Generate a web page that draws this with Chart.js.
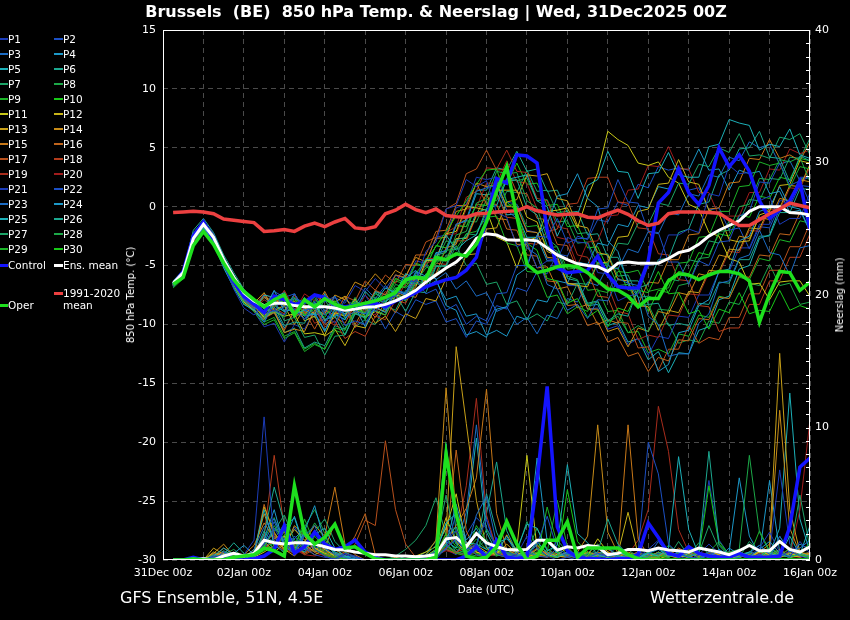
<!DOCTYPE html>
<html><head><meta charset="utf-8">
<script src="https://cdn.jsdelivr.net/npm/chart.js@4.4.1/dist/chart.umd.min.js"></script>
<style>
html,body{margin:0;padding:0;background:#000;}
#wrap{position:relative;width:850px;height:620px;background:#000;overflow:hidden;font-family:"DejaVu Sans",sans-serif;color:#fff;}
#c{position:absolute;left:0;top:0;}
.t{position:absolute;white-space:pre;color:#fff;}
.lg{position:absolute;font-size:10.5px;line-height:12px;white-space:pre;color:#fff;}
.ll{position:absolute;height:2px;}
</style></head><body>
<div id="wrap">
<canvas id="c" width="850" height="620"></canvas>
<div class="t" id="title" style="left:436px;top:3px;transform:translateX(-50%);font-family:'DejaVu Sans',sans-serif;font-weight:bold;font-size:16px;line-height:18px;">Brussels  (BE)  850 hPa Temp. &amp; Neerslag | Wed, 31Dec2025 00Z</div>
<div class="t" style="left:131px;top:295px;transform:translate(-50%,-50%) rotate(-90deg);font-size:10px;line-height:12px;">850 hPa Temp. (°C)</div>
<div class="t" style="left:840px;top:295px;transform:translate(-50%,-50%) rotate(-90deg);font-size:10px;line-height:12px;">Neerslag (mm)</div>
<div class="t" style="left:486px;top:589px;transform:translate(-50%,-50%);font-size:10.3px;line-height:12px;">Date (UTC)</div>
<div class="t" style="left:120px;top:589px;font-size:16px;line-height:18px;">GFS Ensemble, 51N, 4.5E</div>
<div class="t" style="left:650px;top:589px;font-size:16px;line-height:18px;">Wetterzentrale.de</div>
<div id="legend"></div>
</div>
<script>
// ---------- data ----------
const hours = [6,12,18,24,30,36,42,48,54,60,66,72,78,84,90,96,102,108,114,120,126,132,138,144,150,156,162,168,174,180,186,192,198,204,210,216,222,228,234,240,246,252,258,264,270,276,282,288,294,300,306,312,318,324,330,336,342,348,354,360,366,372,378,384];
const xTickLabels = ['31Dec 00z','02Jan 00z','04Jan 00z','06Jan 00z','08Jan 00z','10Jan 00z','12Jan 00z','14Jan 00z','16Jan 00z'];
const memberNames = ['P1','P2','P3','P4','P5','P6','P7','P8','P9','P10','P11','P12','P13','P14','P15','P16','P17','P18','P19','P20','P21','P22','P23','P24','P25','P26','P27','P28','P29','P30'];

const climTemp = [-0.5,-0.45,-0.4,-0.45,-0.6,-1.05,-1.15,-1.25, -1.35,-2.1,-2.05,-1.95,-2.1,-1.65,-1.4,-1.7, -1.3,-1.0,-1.8,-1.9,-1.7,-0.6,-0.3,0.2, -0.25,-0.5,-0.2,-0.75,-0.85,-0.9,-0.6,-0.55, -0.45,-0.4,-0.35,0.0,-0.35,-0.55,-0.7,-0.65, -0.6,-0.9,-0.95,-0.6,-0.3,-0.65,-1.2,-1.6, -1.4,-0.6,-0.45,-0.45,-0.45,-0.5,-0.55,-1.1, -1.6,-1.6,-1.1,-0.6,-0.2,0.3,0.1,-0.1];
const meanTemp = [-6.5,-5.6,-2.7,-1.5,-2.6,-4.5,-6.0,-7.3, -8.0,-8.4,-8.2,-8.2,-8.4,-8.5,-8.5,-8.5, -8.6,-8.8,-8.7,-8.55,-8.5,-8.3,-8.0,-7.6, -7.1,-6.4,-5.8,-5.2,-4.7,-3.9,-2.7,-2.3, -2.4,-2.8,-2.85,-2.8,-2.9,-3.5,-4.1,-4.5, -4.85,-5.0,-5.1,-5.5,-4.8,-4.7,-4.8,-4.8, -4.8,-4.4,-3.9,-3.7,-3.2,-2.5,-2.0,-1.6, -1.2,-0.4,0.0,0.0,0.0,-0.5,-0.55,-0.7];
const controlTemp = [-6.6,-5.5,-2.5,-1.3,-2.8,-4.8,-6.4,-7.6, -8.3,-9.0,-7.6,-7.9,-8.3,-8.1,-7.5,-7.7, -8.4,-8.5,-8.4,-8.3,-8.2,-8.5,-8.0,-7.7, -7.3,-6.8,-6.5,-6.2,-6.0,-5.4,-4.3,-1.1, 2.4,2.0,4.4,4.3,3.7,-2.0,-5.2,-5.6, -5.5,-5.4,-4.2,-5.8,-6.8,-6.9,-6.9,-4.6, 0.3,1.2,3.2,1.2,0.2,1.8,5.0,3.4, 4.4,3.0,0.5,-1.0,-0.3,0.5,2.1,-2.0];
const operTemp = [-6.6,-6.0,-3.3,-2.1,-3.2,-4.8,-6.2,-7.2, -7.9,-8.5,-7.9,-7.5,-9.2,-7.9,-8.5,-7.8, -8.3,-8.6,-8.4,-8.2,-8.0,-7.7,-7.3,-6.2, -6.0,-6.1,-4.3,-4.5,-4.0,-4.2,-3.2,-1.3, 1.3,3.4,-0.8,-4.9,-5.6,-5.4,-5.1,-5.0, -5.1,-5.6,-6.3,-7.0,-7.1,-7.6,-8.5,-7.8, -7.8,-6.3,-5.7,-5.8,-6.2,-5.8,-5.5,-5.5, -5.7,-6.3,-9.8,-7.4,-5.5,-5.6,-7.1,-6.4];
const meanPrec = [0,0,0,0.1,0,0.3,0.5,0.3, 0.5,1.5,1.3,1.2,1.3,1.3,1.2,1.0, 0.8,0.75,0.6,0.5,0.4,0.4,0.3,0.3, 0.25,0.3,0.4,1.6,1.7,1.0,2.0,1.3, 1.0,0.8,0.75,0.8,1.5,1.5,0.75,1.0, 0.9,1.1,1.0,0.4,0.5,0.8,0.8,0.7, 0.9,0.75,0.7,0.6,0.9,0.75,0.6,0.4, 0.7,1.1,0.7,0.7,1.4,0.8,0.6,1.0];
const controlPrec = [0,0,0.2,0,0,0,0,0, 0.1,0.3,0.8,2.6,0.5,1.0,2.1,1.2, 0.8,1.0,1.5,0.6,0.2,0,0,0, 0,0,0,0,0,0.3,1.0,0.2, 1.5,0.2,0.1,0.2,6.0,13.1,2.5,0.7, 0.2,0.1,0.1,0,0.1,0.1,0.4,2.8, 1.7,0.5,0.3,1.0,0.5,0.3,0.2,0.2, 0.5,0.2,0.2,0.2,0.3,2.5,7.0,7.7];
const operPrec = [0,0,0.1,0,0,0,0.2,0.3, 0.4,0.9,0.7,0.3,5.6,2.0,1.2,1.7, 2.7,0.9,1.0,0.5,0.1,0,0,0, 0,0,0.2,8.0,3.5,0.3,0.1,0.2, 1.0,2.9,1.2,0,0.3,1.5,1.5,2.9, 0.2,0.9,0.9,0.9,0.9,0.4,0.1,0, 0,0,0,0,0,0,0,0, 0,0,0,0,0,0,0,0];

const T_P1 = [-6.7,-5.8,-2.4,-1.3,-2.6,-4.9,-7.0,-8.6, -9.2,-8.3,-8.9,-7.4,-8.7,-9.6,-8.0,-9.1, -9.9,-8.4,-8.6,-7.5,-8.9,-7.8,-7.6,-6.2, -6.4,-3.8,-3.0,-0.2,0.1,2.3,1.7,2.2, -0.5,-0.9,-3.4,-3.0,-5.2,-4.6,-4.5,-2.6, -3.0,-3.1,-5.6,-5.7,-8.0,-7.6,-7.4,-5.0, -4.8,-2.4,-2.4,-1.9,-2.2,1.1,0.9,3.5, 2.8,2.9,0.5,0.9,-1.5,-1.0,-1.0,1.2];
const T_P2 = [-6.4,-5.5,-2.2,-1.2,-2.3,-4.3,-5.8,-7.2, -8.1,-9.1,-8.8,-9.2,-7.4,-8.8,-8.6,-9.9, -8.3,-10.1,-9.7,-10.0,-8.3,-8.6,-7.2,-7.5, -6.1,-7.4,-7.0,-8.8,-8.3,-10.0,-9.3,-9.7, -7.4,-7.3,-5.0,-5.0,-2.5,-2.6,-1.0,-3.1, -2.7,-2.7,-0.2,-0.1,2.3,0.4,0.3,-2.1, -2.2,-4.7,-4.7,-6.6,-4.6,-5.0,-3.0,-2.9, -0.8,-0.4,2.1,2.0,3.7,1.8,2.2,0.3];
const T_P3 = [-6.6,-5.7,-2.6,-1.5,-2.7,-4.4,-6.2,-7.9, -8.6,-9.8,-8.0,-8.5,-7.8,-8.1,-7.5,-8.9, -7.6,-9.4,-8.9,-9.1,-8.0,-8.8,-7.1,-7.3, -5.6,-6.2,-4.0,-3.7,-1.5,-1.2,1.3,1.6, 1.8,-0.3,-1.0,-3.5,-4.1,-6.6,-7.0,-8.8, -8.3,-9.5,-7.9,-8.0,-6.1,-6.5,-6.7,-9.3, -10.0,-12.7,-12.5,-12.5,-9.9,-9.1,-6.5,-6.3, -4.4,-4.1,-2.0,-3.9,-4.1,-5.8,-3.5,-3.3];
const T_P4 = [-6.5,-5.6,-2.9,-1.8,-2.9,-4.7,-6.3,-7.5, -7.9,-8.7,-7.1,-8.9,-8.7,-9.3,-9.1,-10.6, -8.7,-9.1,-8.5,-10.2,-8.5,-9.0,-7.1,-7.4, -5.5,-5.9,-6.1,-8.4,-8.8,-10.9,-10.6,-11.1, -8.7,-8.5,-5.8,-5.2,-2.4,-1.5,0.9,1.1, 2.8,0.7,0.0,-2.9,-3.8,-6.5,-7.7,-11.5, -14.0,-13.4,-10.7,-10.5,-8.4,-7.9,-5.5,-5.3, -2.9,-2.5,-0.4,-0.1,1.7,0.0,-0.2,-2.0];
const T_P5 = [-6.8,-5.9,-2.8,-1.7,-3.0,-5.2,-6.9,-8.3, -8.8,-7.5,-7.7,-7.3,-9.1,-8.8,-9.2,-7.4, -8.9,-8.5,-8.8,-7.2,-8.1,-6.9,-7.3,-5.7, -6.1,-4.5,-4.5,-2.4,-3.7,-2.9,-2.4,-0.2, 0.1,2.3,2.5,2.7,0.5,0.0,-2.5,-0.7, -0.7,1.8,2.3,4.7,3.0,2.9,0.7,2.8, 2.9,4.6,2.7,2.5,2.5,5.1,5.3,7.4, 7.1,6.9,4.8,5.3,5.1,6.6,4.4,4.1];
const T_P6 = [-6.3,-5.4,-2.0,-1.0,-2.2,-4.1,-5.6,-7.0, -7.9,-9.0,-8.5,-10.1,-9.8,-9.9,-8.1,-9.6, -9.3,-10.9,-9.1,-9.4,-7.9,-8.1,-7.4,-8.9, -7.2,-7.3,-5.1,-5.0,-2.8,-2.6,-0.5,-0.2, 2.0,2.1,2.3,-0.1,-0.7,-3.3,-3.8,-6.1, -6.3,-8.2,-8.0,-9.7,-9.1,-9.3,-6.9,-6.6, -4.5,-4.4,-2.2,-1.9,0.2,0.4,2.7,3.1, 4.9,5.0,6.4,4.2,4.1,2.1,4.3,3.9];
const T_P7 = [-6.6,-5.6,-2.5,-1.4,-2.7,-4.8,-6.6,-8.0, -8.7,-9.5,-8.1,-9.7,-9.4,-11.1,-10.9,-12.6, -11.0,-10.9,-9.0,-9.5,-8.1,-8.7,-7.3,-7.9, -6.5,-6.8,-5.0,-5.1,-3.3,-5.0,-4.8,-6.6, -6.4,-8.3,-8.0,-9.6,-9.1,-9.7,-8.1,-8.3, -6.5,-6.6,-4.7,-4.9,-3.1,-3.2,-1.4,-1.5, 0.3,0.1,2.0,1.9,3.6,3.4,5.0,4.6, 6.2,4.3,4.4,4.1,5.9,5.7,6.2,4.4];
const T_P8 = [-6.5,-5.6,-2.7,-1.6,-2.8,-4.6,-6.1,-7.6, -8.3,-9.3,-8.9,-9.4,-7.8,-8.3,-7.7,-9.2, -8.6,-9.1,-7.7,-9.3,-8.8,-9.2,-7.6,-8.0, -6.3,-6.5,-4.6,-4.6,-2.4,-2.1,0.3,0.7, 3.0,2.8,2.9,0.5,-0.1,-2.7,-3.4,-5.9, -6.2,-8.3,-8.1,-9.8,-9.3,-10.7,-10.1,-10.6, -8.7,-8.8,-6.7,-6.5,-4.4,-4.3,-2.1,-2.0, 0.0,0.2,2.4,2.3,4.0,3.8,4.2,2.1];
const T_P9 = [-6.9,-6.1,-3.2,-2.1,-3.3,-5.1,-6.8,-8.2, -8.9,-10.0,-9.6,-11.2,-10.7,-12.3,-11.7,-12.1, -10.3,-10.5,-8.7,-9.0,-7.4,-7.8,-6.1,-6.5, -6.4,-5.2,-4.9,-3.7,-3.6,-2.3,-2.1,-0.9, -0.8,-3.1,-3.3,-5.5,-5.6,-7.7,-7.5,-9.1, -8.5,-8.9,-7.1,-7.3,-5.5,-5.6,-5.4,-7.2, -7.0,-6.9,-4.8,-4.7,-2.6,-2.5,-0.4,-0.4, 1.7,1.8,3.8,3.5,3.7,1.6,3.4,3.2];
const T_P10 = [-6.4,-5.5,-2.4,-1.3,-2.5,-4.4,-5.9,-7.4, -8.2,-9.1,-7.6,-8.2,-7.7,-9.2,-8.7,-9.4, -8.0,-8.6,-8.1,-9.6,-8.2,-8.7,-6.9,-6.8, -5.7,-4.5,-3.4,-2.1,-0.8,0.5,1.9,3.1, 3.2,0.4,-0.4,-3.1,-3.7,-6.1,-6.3,-8.2, -7.8,-9.4,-8.8,-10.2,-8.6,-8.9,-7.1,-7.3, -5.5,-7.4,-7.3,-9.1,-8.8,-10.4,-8.7,-9.0, -7.3,-9.1,-8.8,-8.9,-7.1,-8.8,-8.4,-8.7];
const T_P11 = [-6.6,-5.7,-2.6,-1.5,-2.8,-4.5,-6.2,-7.7, -8.4,-9.4,-8.9,-9.3,-9.1,-10.8,-10.7,-10.9, -9.0,-9.3,-7.8,-9.4,-8.9,-9.2,-7.5,-7.7, -6.8,-4.6,-4.5,-2.3,-2.1,0.0,-0.1,-0.3, -2.6,-3.0,-5.2,-2.9,-2.6,-0.4,-0.3,-0.1, -1.8,0.8,2.9,6.4,5.7,5.2,3.7,3.5, 3.8,2.5,2.0,0.2,-0.2,-2.2,-2.5,-4.4, -4.7,-6.6,-6.5,-7.9,-6.4,-6.3,-6.3,-7.6];
const T_P12 = [-6.5,-5.6,-2.8,-1.7,-2.9,-4.9,-6.7,-8.1, -8.8,-9.6,-7.9,-8.4,-8.0,-9.7,-9.3,-11.0, -10.4,-11.8,-10.1,-10.3,-8.6,-8.9,-7.2,-7.6, -6.0,-6.3,-4.5,-4.6,-2.7,-2.7,-0.7,-0.6, 1.4,1.4,1.4,-0.9,-1.3,-3.8,-4.2,-6.5, -6.7,-6.8,-4.8,-4.7,-2.6,-2.5,-0.4,-0.2, 1.9,2.0,4.0,2.1,1.9,-0.3,-0.6,-2.8, -3.0,-2.9,-0.7,-0.4,1.8,1.9,3.9,3.7];
const T_P13 = [-6.7,-5.8,-2.7,-1.6,-2.7,-4.7,-6.4,-7.7, -8.2,-7.3,-8.8,-8.4,-10.0,-8.6,-9.1,-7.6, -8.1,-7.6,-9.1,-8.5,-9.9,-9.3,-10.6,-9.1, -9.5,-7.8,-8.0,-6.1,-6.1,-4.1,-4.0,-1.9, -1.8,0.4,0.6,2.7,2.6,2.8,0.7,0.5, -1.6,-1.8,-3.9,-4.1,-6.2,-6.3,-8.4,-8.5, -10.5,-8.8,-9.0,-7.2,-7.3,-5.4,-5.5,-3.6, -3.7,-1.8,-1.9,0.0,-0.1,1.8,1.7,3.6];
const T_P14 = [-6.4,-5.5,-2.3,-1.2,-2.4,-4.3,-5.8,-7.1, -8.0,-9.2,-8.9,-10.7,-10.4,-10.6,-8.8,-9.1, -7.5,-7.9,-6.4,-6.8,-5.7,-6.6,-5.4,-5.9, -4.3,-4.7,-2.7,-2.6,-0.4,-0.2,2.0,1.7, 1.9,0.0,0.0,-2.1,-2.2,-4.3,-4.4,-6.5, -6.6,-8.7,-8.7,-10.6,-10.3,-11.9,-10.3,-10.6, -8.9,-9.1,-7.3,-7.5,-5.7,-5.9,-4.1,-4.3, -2.5,-2.7,-0.9,-1.1,0.7,0.5,2.3,2.1];
const T_P15 = [-6.6,-5.7,-2.5,-1.4,-2.6,-4.6,-6.5,-8.0, -8.6,-7.7,-8.3,-7.8,-9.4,-8.0,-8.6,-7.2, -8.8,-8.4,-10.0,-8.5,-9.4,-8.2,-9.0,-7.5, -7.7,-5.9,-5.7,-3.5,-3.2,-0.9,-0.7,1.1, -1.0,-1.1,-3.2,-3.2,-5.2,-5.1,-7.0,-6.8, -8.6,-8.3,-10.0,-9.6,-9.9,-8.1,-8.3,-6.4, -6.5,-4.5,-4.5,-2.4,-2.3,-0.2,-0.1,2.0, 2.1,4.1,4.0,5.7,4.1,4.4,3.9,5.5];
const T_P16 = [-6.5,-5.6,-2.6,-1.5,-2.7,-4.6,-6.2,-7.6, -8.4,-9.5,-9.0,-10.5,-8.8,-9.1,-8.5,-10.0, -9.4,-9.9,-8.3,-8.7,-7.1,-7.5,-5.8,-6.0, -4.1,-4.1,-2.1,-2.0,0.1,0.1,2.0,0.2, 0.2,-1.9,-2.0,-4.1,-4.2,-6.3,-6.4,-8.4, -8.3,-10.1,-9.8,-11.5,-11.1,-12.7,-12.4,-14.0, -12.8,-13.1,-11.3,-11.4,-9.5,-9.6,-7.7,-7.8, -5.9,-6.0,-4.1,-4.2,-2.3,-2.4,-0.5,-0.6];
const T_P17 = [-6.6,-5.7,-2.8,-1.7,-2.8,-4.7,-6.3,-7.8, -8.5,-7.6,-8.1,-7.7,-9.3,-8.9,-10.4,-8.8, -9.2,-7.6,-8.0,-6.3,-7.1,-5.8,-6.5,-4.9, -5.0,-3.0,-2.6,-0.2,0.3,2.8,3.2,4.8, 3.1,3.2,1.2,1.1,-1.0,-1.1,-3.2,-3.3, -5.4,-5.5,-7.6,-7.7,-9.8,-9.9,-12.0,-11.9, -13.9,-12.1,-12.1,-10.1,-11.6,-11.1,-11.3,-9.4, -9.4,-7.4,-7.4,-5.4,-5.4,-3.4,-3.4,-1.4];
const T_P18 = [-6.5,-5.6,-2.5,-1.4,-2.6,-4.5,-6.2,-7.7, -8.3,-9.2,-8.6,-9.1,-7.5,-9.0,-8.6,-10.2, -9.7,-11.2,-10.6,-11.0,-9.3,-9.6,-7.9,-8.2, -6.5,-6.7,-4.8,-4.9,-2.9,-2.9,-0.8,-0.8, 1.1,-0.9,-1.0,-3.1,-3.2,-2.1,-1.9,0.2, 0.3,2.4,2.5,2.5,0.4,0.3,-1.8,-1.9, -4.0,-4.1,-6.2,-6.3,-8.4,-8.5,-10.6,-10.3, -10.3,-8.3,-8.3,-6.3,-6.3,-4.3,-4.3,-2.3];
const T_P19 = [-6.7,-5.9,-3.0,-1.9,-3.0,-4.9,-6.6,-8.1, -8.7,-7.9,-8.5,-7.1,-8.7,-8.3,-9.9,-9.5, -10.1,-8.6,-9.1,-7.5,-8.4,-7.2,-8.0,-6.5, -6.7,-4.8,-4.5,-2.2,-1.7,0.8,1.3,3.3, 3.2,4.8,3.0,2.9,0.7,0.5,-1.7,-1.9, -4.1,-4.3,-6.5,-6.7,-8.9,-9.1,-11.3,-10.9, -11.1,-9.2,-9.3,-7.4,-7.5,-5.6,-5.7,-3.8, -3.9,-2.0,-2.1,-0.2,-0.3,1.6,1.5,3.4];
const T_P20 = [-6.6,-5.7,-2.6,-1.5,-2.7,-4.6,-6.3,-7.8, -8.5,-7.4,-7.9,-7.4,-8.9,-7.4,-8.0,-7.5, -9.1,-8.7,-10.3,-8.8,-9.2,-7.6,-7.9,-6.1, -6.3,-4.4,-4.4,-2.4,-2.3,-0.2,-0.1,2.0, 2.0,3.9,2.1,2.0,-0.2,-0.4,-2.6,-2.8, -5.0,-3.0,-2.9,-0.8,-0.7,1.4,1.5,3.5, 3.4,5.1,3.2,3.2,1.2,1.2,-0.8,-0.8, -0.8,1.2,1.2,3.2,3.1,4.9,4.5,4.8];
const T_P21 = [-6.5,-5.6,-2.4,-1.3,-2.5,-4.6,-6.4,-8.0, -8.9,-10.2,-9.9,-11.5,-10.0,-10.4,-8.8,-9.2, -7.7,-8.2,-6.7,-7.2,-6.1,-7.0,-5.8,-6.4, -4.6,-4.8,-2.6,-2.4,-0.1,0.2,2.5,2.3, 2.5,0.4,0.2,-2.0,-2.2,-4.4,-4.6,-6.7, -6.7,-8.7,-8.6,-10.4,-10.1,-11.7,-11.2,-12.6, -11.0,-11.2,-9.3,-9.4,-7.5,-7.5,-5.5,-5.5, -3.5,-3.5,-1.5,-1.5,0.5,0.5,2.5,2.5];
const T_P22 = [-6.4,-5.5,-2.3,-1.2,-2.4,-4.4,-6.0,-7.5, -8.1,-8.9,-7.2,-7.7,-7.4,-9.1,-7.5,-8.1, -7.6,-9.2,-8.7,-9.1,-8.8,-10.4,-8.9,-9.4, -7.9,-8.3,-8.0,-9.8,-9.5,-11.1,-9.7,-10.0, -8.4,-8.7,-6.9,-7.2,-5.5,-5.7,-4.0,-4.2, -2.5,-2.8,-1.1,-1.3,0.4,0.1,1.9,1.6, 3.4,3.1,3.3,1.4,1.6,-0.3,-0.1,-2.0, -1.8,-3.6,-1.7,-1.8,0.1,0.0,1.8,1.7];
const T_P23 = [-6.6,-5.7,-2.7,-1.6,-2.8,-4.7,-6.4,-7.9, -8.4,-7.5,-9.0,-8.5,-9.1,-7.7,-9.3,-8.8, -9.4,-7.9,-8.4,-6.9,-7.8,-6.7,-7.5,-6.2, -6.6,-4.9,-6.2,-5.6,-7.0,-6.3,-7.6,-7.3, -8.9,-8.5,-10.0,-9.4,-10.8,-9.2,-9.5,-7.8, -8.1,-6.4,-6.7,-5.0,-5.3,-3.6,-3.9,-2.1, -2.3,-0.5,-0.7,1.1,0.9,2.7,2.5,4.2, 3.9,5.5,5.0,5.3,3.6,3.9,2.2,2.5];
const T_P24 = [-6.5,-5.6,-2.5,-1.4,-2.6,-4.5,-6.1,-7.5, -8.2,-9.3,-8.8,-10.3,-8.9,-9.5,-9.0,-10.5, -9.1,-9.6,-8.2,-8.8,-7.2,-7.5,-5.8,-6.1, -5.4,-6.8,-6.3,-7.9,-7.6,-9.3,-9.1,-10.9, -10.5,-11.0,-9.3,-9.6,-7.9,-8.1,-6.3,-6.5, -4.7,-4.9,-3.1,-3.3,-1.5,-1.7,0.1,-0.1, 1.7,1.5,3.3,3.1,4.9,3.1,3.2,1.4, 3.1,2.8,3.0,1.1,1.3,-0.5,-0.3,-2.1];
const T_P25 = [-6.7,-5.8,-2.9,-1.8,-3.0,-4.9,-6.6,-8.1, -8.8,-9.8,-8.3,-8.9,-7.4,-8.8,-8.3,-9.7, -9.1,-9.6,-8.0,-8.4,-7.3,-8.1,-6.9,-7.5, -5.8,-6.0,-3.9,-3.8,-1.5,-1.2,1.1,1.0, 1.2,-0.7,-0.6,-2.6,-2.6,-4.6,-4.6,-6.6, -6.5,-8.4,-8.3,-10.1,-9.8,-11.5,-11.2,-13.0, -12.3,-14.1,-12.4,-12.5,-10.5,-10.2,-7.9,-7.6, -5.3,-5.0,-2.7,-2.4,-0.1,0.2,2.4,2.5];
const T_P26 = [-6.5,-5.6,-2.6,-1.5,-2.7,-4.6,-6.2,-7.7, -8.4,-9.4,-9.0,-10.7,-10.3,-12.0,-11.5,-11.8, -10.1,-10.4,-8.7,-9.0,-7.8,-8.6,-7.4,-7.9, -6.1,-6.3,-4.1,-3.9,-1.5,-1.1,1.4,1.4, 3.3,3.1,4.7,3.0,3.2,1.3,1.4,-0.5, -0.4,-2.4,-2.3,-4.3,-4.3,-6.3,-6.3,-8.3, -8.2,-10.1,-9.9,-10.1,-8.2,-8.3,-6.4,-6.5, -4.5,-4.5,-2.5,-2.5,-0.5,-0.5,1.5,1.5];
const T_P27 = [-6.6,-5.7,-2.6,-1.5,-2.7,-4.6,-6.3,-7.8, -8.6,-7.7,-8.4,-7.9,-9.4,-8.9,-9.4,-7.9, -9.3,-8.7,-10.2,-9.6,-10.0,-8.4,-8.8,-7.1, -7.4,-5.7,-5.9,-4.1,-4.2,-2.3,-2.4,-0.5, -0.6,1.3,1.2,3.1,1.3,1.4,-0.5,-0.4, -2.3,-2.2,-4.1,-4.0,-5.9,-5.8,-7.7,-7.6, -7.9,-6.1,-6.3,-4.5,-4.7,-2.9,-3.1,-1.2, -1.3,0.6,0.5,2.4,2.3,4.2,4.1,5.8];
const T_P28 = [-6.4,-5.5,-2.4,-1.3,-2.5,-4.4,-6.0,-7.4, -8.1,-9.0,-8.4,-8.9,-7.4,-8.8,-8.2,-9.6, -9.0,-10.4,-8.9,-9.4,-7.8,-8.2,-6.6,-6.9, -6.2,-4.5,-4.7,-2.9,-3.1,-1.2,-1.3,0.6, 0.5,2.4,2.2,2.4,0.5,0.6,-1.3,-1.2, -3.1,-3.0,-4.9,-4.8,-6.7,-6.6,-8.5,-8.3, -10.1,-9.9,-11.6,-11.3,-11.5,-9.7,-9.9,-8.1, -8.3,-6.5,-6.7,-4.9,-6.7,-6.5,-8.3,-8.1];
const T_P29 = [-6.7,-5.8,-2.8,-1.7,-2.9,-4.8,-6.5,-8.0, -8.7,-9.8,-9.4,-11.0,-10.6,-12.1,-11.6,-12.1, -10.5,-10.8,-9.1,-9.4,-7.7,-8.0,-6.3,-6.6, -4.9,-5.1,-3.3,-3.5,-1.6,-1.7,0.2,0.1, 2.0,0.1,0.2,-1.7,-1.6,-3.5,-3.4,-5.3, -5.2,-7.1,-7.0,-8.9,-8.8,-10.7,-10.6,-12.4, -12.1,-12.5,-10.8,-11.0,-9.2,-9.4,-7.6,-7.8, -6.0,-6.2,-4.4,-4.6,-2.8,-3.0,-1.2,-1.4];
const T_P30 = [-6.5,-5.6,-2.5,-1.4,-2.6,-4.5,-6.1,-7.6, -8.3,-9.2,-7.7,-8.3,-7.8,-9.3,-7.9,-8.5, -8.0,-9.5,-8.1,-8.7,-7.2,-7.7,-6.1,-6.5, -4.8,-5.1,-3.3,-3.5,-1.6,-1.7,0.2,0.1, 2.0,1.9,3.7,1.9,2.0,0.1,0.2,-1.7, -1.6,-3.5,-3.4,-5.3,-5.2,-7.1,-7.0,-8.9, -7.1,-7.3,-5.5,-5.7,-3.9,-4.1,-2.3,-2.5, -0.7,-0.9,0.9,0.7,2.5,2.3,4.1,3.9];

const R_P1 = [0,0,0,0,0.3,0.2,0,0.4, 1.5,10.8,1.2,0.6,1.8,0.9,0.4,0.2, 0.1,0.5,0.3,0,0,0,0.1,0, 0,0.2,0.6,1.5,2.2,0.8,1.2,3.1, 0.5,0.2,0.4,1.8,0.9,0.3,0,0.2, 0.6,0.1,0,0.3,1.1,0.4,0.2,0.8, 1.5,0.6,0.3,0,0.4,1.2,0.5,0.2, 0,0.3,0.9,2.1,0.6,0.2,1.4,0.5];
const R_P2 = [0,0,0,0,0,0.6,0.2,0, 0.3,1.2,2.4,1.1,0.5,2.0,0.8,0.3, 0,0.4,0.2,0,0,0,0,0, 0,0,0.3,0.8,3.5,1.0,0.4,0.2, 1.1,0.6,0.3,0.2,1.2,3.3,0.8,0.2, 0,0.2,0.5,0.3,0.1,0,0.6,8.9, 6.5,1.2,0.5,0.2,0.1,0.6,0.3,0, 0.2,0.5,1.1,0.4,0.2,0.7,0.3,0.1];
const R_P3 = [0,0,0,0,0.2,0.4,0.1,0, 0.8,2.5,3.1,1.4,0.6,1.8,2.6,0.9, 0.4,0.2,0,0,0,0,0,0, 0,0,0.1,0.9,1.6,0.6,3.4,4.8, 1.2,0.4,0.2,0.6,0.3,0.2,0.9,0.4, 0.1,0,0.2,0.5,0.2,0,0,0.3, 1.4,0.4,0.2,0.6,0.1,0.3,0.8,0.2, 0.5,0.2,0.4,0.1,1.8,0.6,0.9,1.5];
const R_P4 = [0,0,0,0.2,0,0,0.5,1.1, 0.4,1.6,3.8,1.0,0.5,2.2,4.1,1.3, 0.5,0.2,0.1,0,0,0,0,0, 0,0.3,0.6,1.2,4.2,1.5,2.4,1.0, 0.6,1.8,0.4,0.3,1.4,0.5,0.2,0.6, 0.3,0.1,0.4,0.9,0.3,0.2,0.1,0.5, 0.8,0.3,0.6,0.2,0.1,0.4,0.2,0.9, 0.4,0.2,0.8,1.4,0.5,0.3,1.2,0.8];
const R_P5 = [0,0,0,0,0.3,0.9,0.4,0, 0.6,3.8,1.2,2.5,3.2,0.8,1.9,2.4, 0.9,0.3,0.2,0,0,0,0,0.1, 0.2,0,0.5,2.8,3.5,1.3,1.2,0.8, 1.3,1.6,0.8,2.7,2.4,0.7,1.1,7.2, 2.0,1.3,0.4,0.2,0.6,0.3,0.2,0.5, 0.3,0.9,7.8,2.3,0.4,0.2,0.8,0.3, 0.2,0.6,1.1,0.5,0.3,1.8,0.4,2.6];
const R_P6 = [0,0,0,0,0,0.4,1.3,0.5, 0.2,2.0,5.5,2.8,1.0,0.6,2.2,1.4, 0.6,0.3,0,0,0,0,0.1,0, 0,0,0.3,1.7,2.5,0.6,0.9,5.0, 2.1,0.4,0.2,0.9,0.3,1.6,0.5,0.2, 0.4,0.2,0.6,3.1,1.2,0.4,0.2,0.6, 0.9,0.3,0.4,0.2,0.6,8.2,1.1,0.3, 0.6,0.3,0.2,0.9,0.4,0.2,0.5,0.3];
const R_P7 = [0,0,0,0,0.4,0.2,0,0, 0.3,1.1,2.2,3.4,1.5,0.8,2.1,3.1, 1.4,0.6,0.2,0,0,0,0,0, 0,0.4,1.1,4.9,1.2,0.5,0.8,1.6, 0.4,0.2,0.6,2.9,0.8,0.3,1.5,0.6, 0.2,0.5,1.2,0.4,0.3,0.8,0.2,0.1, 0.6,0.2,1.4,0.3,0.5,2.6,0.8,0.3, 0.2,1.4,0.6,0.3,1.8,0.5,4.9,0.9];
const R_P8 = [0,0,0,0,0,0.3,0.6,0.2, 0.5,0.9,2.6,1.3,0.6,2.5,3.8,2.0, 0.3,0.1,0,0,0,0,0,0, 0,0.2,0.8,2.8,2.0,0.4,0.7,2.3, 1.0,0.5,0.3,0.6,2.4,0.8,0.3,0.4, 0.6,0.3,0.9,0.2,0.1,0.5,0.3,0.2, 0.4,1.1,0.5,0.3,1.3,0.4,0.2,0.6, 0.8,7.9,2.1,0.6,0.3,0.9,0.4,0.2];
const R_P9 = [0,0,0,0,0.2,0,0.3,0, 0.4,1.6,0.9,2.2,0.7,3.1,1.2,0.6, 0.2,0.1,0,0,0,0,0,0, 0,0,0.2,1.1,0.5,0.3,2.6,1.4, 0.3,0.8,0.2,0.5,1.2,0.6,4.5,1.0, 0.2,0.4,0.2,1.0,0.3,0.1,0.5,0.3, 0.2,0.5,0.3,0.8,0.2,0.6,1.4,0.4, 0.6,0.3,2.2,0.7,0.4,0.2,0.5,1.3];
const R_P10 = [0,0,0,0,0,0.2,0.4,0, 0.3,0.7,1.3,0.5,1.2,2.6,0.8,0.4, 0.1,0,0,0,0,0,0,0, 0,0,0.4,2.0,1.0,0.6,0.5,0.3, 0.8,0.4,0.2,0.3,0.6,0.3,0.2,5.3, 1.4,0.5,0.2,0.3,0.1,0.4,0.2,0.6, 0.3,0.2,0.5,1.1,0.4,5.6,1.2,0.4, 0.3,0.5,0.2,0.8,0.6,0.3,0.4,0.2];
const R_P11 = [0,0,0,0,0,0.5,0.2,0, 0.2,0.6,1.1,1.8,0.5,0.9,0.4,0.8, 0.3,0,0,0,0,0,0,0.1, 0.3,0.6,1.0,2.4,5.0,1.2,0.6,0.4, 0.6,0.8,0.9,7.9,0.8,0.3,0.4,0.9, 0.2,0.3,1.6,0.6,0.2,0.1,0.4,0.2, 0.1,0.3,0.2,0.5,0.3,0.4,0.2,0.1, 0.3,0.2,0.6,0.4,0.2,0.5,0.3,0.2];
const R_P12 = [0,0,0,0,0.6,0.3,0,0.2, 0.8,1.4,0.6,1.2,2.3,1.5,0.9,0.5, 0.4,0.2,0,0,0,0,0,0, 0,0.3,0.8,3.2,1.4,0.5,1.1,0.6, 0.4,1.9,0.6,0.2,0.5,0.3,0.2,0.4, 0.2,0.6,0.3,0.2,0.5,3.6,0.4,0.1, 0.2,0.5,0.3,0.2,0.1,0.6,0.4,0.2, 0.5,0.3,0.2,0.6,0.4,0.2,0.3,0.5];
const R_P13 = [0,0,0,0,0.9,0.4,0,0, 0.2,4.0,2.1,0.8,0.3,1.2,0.6,0.9, 2.8,0.6,0.2,0,0,0,0,0, 0,0.2,0.4,2.0,16.1,10.3,4.5,0.9, 0.4,1.2,0.5,0.3,0.8,0.4,0.2,0.6, 0.3,0.5,1.2,0.4,0.2,0.6,0.3,0.2, 0.6,0.3,0.2,0.8,0.4,0.2,0.6,0.3, 0.2,0.4,0.6,1.2,15.6,3.8,0.6,0.3];
const R_P14 = [0,0,0,0,0.5,1.2,0.3,0, 0.6,3.5,1.4,0.9,2.6,1.8,0.7,1.3, 0.8,0.3,0,0,0,0,0.2,0, 0,0.4,1.5,13.0,3.2,1.1,0.6,0.4, 0.9,0.5,0.3,0.6,1.1,0.4,0.3,0.2, 0.6,1.8,10.2,2.1,0.5,0.3,0.2,0.4, 0.3,0.6,0.4,0.2,0.5,0.3,0.4,0.2, 0.4,0.3,0.6,0.9,11.3,2.4,0.5,0.2];
const R_P15 = [0,0,0,0,0.3,0.6,0.2,0.4, 1.1,2.8,1.6,2.1,0.9,1.4,2.6,1.8, 5.5,1.2,0.4,0,0,0,0,0, 0,0.3,0.5,1.4,2.6,3.9,6.2,12.9, 3.5,0.8,0.4,0.3,0.9,0.5,0.3,0.6, 0.4,0.2,0.5,0.8,0.4,10.2,1.6,0.3, 0.2,0.5,0.3,0.6,0.2,0.4,0.3,0.2, 0.3,0.5,0.2,0.4,0.8,0.3,0.6,0.4];
const R_P16 = [0,0,0,0,0.2,0.9,0.4,0, 0.4,4.2,1.8,0.7,1.2,0.5,0.9,0.4, 0.3,0.6,1.8,3.5,0.4,0,0,0, 0,0.2,0.6,1.3,8.3,2.2,0.6,0.4, 0.5,0.3,0.8,0.4,0.2,0.6,0.3,0.2, 0.3,0.6,0.4,0.2,0.5,0.3,0.6,0.2, 0.4,0.3,0.9,0.5,0.2,0.3,0.6,0.4, 0.2,0.5,0.3,0.6,0.4,0.8,0.3,0.5];
const R_P17 = [0,0,0,0,0.4,0.2,0,0, 0.3,0.8,1.5,0.6,1.1,0.4,0.8,0.6, 0.5,0.3,1.2,3.0,2.6,9.0,3.8,1.2, 0.2,0,0.3,0.8,0.5,1.4,0.6,0.3, 0.6,0.4,0.2,0.5,0.3,0.8,0.4,0.2, 0.5,0.3,0.6,0.2,0.4,0.3,0.5,0.2, 0.6,0.3,0.2,0.4,0.5,0.3,0.2,0.6, 0.3,0.4,0.2,0.5,0.3,0.6,0.2,0.4];
const R_P18 = [0,0,0,0,0.5,0.3,0,0, 0.6,1.8,7.9,2.4,0.9,0.5,1.3,0.6, 0.2,0.5,0.3,0,0,0,0,0, 0,0.2,0.5,1.0,0.6,0.9,0.4,0.3, 0.5,0.3,0.6,0.9,0.4,0.2,0.5,0.3, 0.2,0.5,0.3,0.6,0.4,0.2,0.3,0.5, 0.3,0.6,0.4,0.2,0.5,0.3,0.4,0.2, 0.5,0.3,0.6,0.4,0.2,0.5,0.3,0.6];
const R_P19 = [0,0,0,0,0.3,0.5,0.2,0, 0.4,1.2,2.0,0.8,0.5,1.1,0.6,0.3, 0.2,0.1,0,0,0,0,0,0, 0,0.3,0.6,0.9,1.8,5.6,12.2,3.4, 0.8,0.4,0.3,0.6,0.2,0.5,0.3,0.4, 0.2,0.6,0.3,0.5,0.2,0.4,1.5,3.8, 11.6,8.2,2.3,0.6,0.3,0.5,0.2,0.4, 0.3,0.2,0.5,0.4,0.6,0.3,0.2,0.5];
const R_P20 = [0,0,0,0,0.2,0.4,0.1,0, 0.3,0.9,1.4,0.6,0.8,0.4,0.3,0.5, 0.2,0,0,0,0,0,0,0, 0,0.2,0.4,0.7,0.5,0.4,0.6,0.3, 0.4,0.2,0.5,0.3,0.6,0.2,0.4,0.3, 0.5,0.3,0.2,0.6,0.4,0.3,0.5,0.2, 0.4,0.2,0.5,0.3,0.6,0.4,0.2,0.5, 0.3,0.5,0.2,0.6,0.4,0.3,3.8,10.6];
const R_P21 = [0,0,0,0,0.3,0.2,0,0, 0.5,1.6,0.8,2.2,1.4,0.6,1.1,0.4, 0.2,0.1,0,0,0,0,0,0, 0,0,0.4,0.9,1.5,0.8,2.1,1.2, 0.6,0.3,0.5,0.2,0.8,0.4,0.3,0.6, 0.2,0.4,0.6,0.3,0.5,0.2,0.4,0.3, 0.5,0.3,0.6,0.4,0.9,6.0,1.5,0.4, 0.3,0.5,0.4,0.6,6.8,1.2,0.4,0.3];
const R_P22 = [0,0,0,0,0.2,0.5,0.3,0, 0.4,0.9,1.7,0.8,2.5,1.2,0.6,0.9, 0.3,0.2,0,0,0,0,0,0, 0,0.2,0.3,0.8,0.4,1.9,3.2,2.4, 1.1,0.5,0.3,0.2,0.4,0.6,0.3,0.5, 0.3,0.2,0.5,0.4,0.2,0.3,0.6,0.4, 0.2,0.5,0.3,0.6,0.4,0.2,0.5,0.3, 0.4,0.2,0.6,0.3,0.5,0.4,0.2,0.6];
const R_P23 = [0,0,0,0,0.4,0.2,0,0, 0.3,1.3,2.9,1.1,0.6,0.8,2.1,0.7, 0.4,0.2,0,0,0,0,0,0, 0,0.3,0.8,2.5,1.2,3.6,10.2,3.0, 0.9,0.4,0.2,0.5,0.3,0.6,0.4,0.2, 0.5,0.3,0.2,0.4,0.6,0.3,0.2,0.5, 0.3,0.5,0.2,0.4,0.3,0.6,0.4,0.2, 0.5,0.3,0.6,0.2,0.4,0.5,0.3,0.4];
const R_P24 = [0,0,0,0,0.3,0.6,0.2,0, 0.5,1.9,0.8,1.5,3.3,1.0,0.6,1.8, 0.6,0.3,0,0,0,0,0,0, 0,0.2,0.4,1.1,0.6,1.3,0.8,0.5, 0.4,0.8,0.3,0.6,7.7,1.4,0.5,0.3, 0.2,0.5,0.3,0.6,0.4,0.2,0.5,0.3, 0.4,0.2,0.6,0.3,0.5,0.4,0.2,0.6, 6.2,1.8,0.4,6.0,0.6,0.3,0.5,0.4];
const R_P25 = [0,0,0,0,0.5,0.3,0,0, 0.2,1.4,2.0,0.7,1.6,2.4,0.9,0.5, 0.3,0.1,0,0,0,0,0,0, 0,0.3,0.7,1.4,0.9,2.8,9.2,2.1, 0.6,0.3,0.5,0.2,0.4,0.6,0.3,0.5, 0.3,0.6,0.2,0.4,0.5,0.3,0.2,0.4, 0.5,0.3,0.4,0.6,0.2,0.5,0.3,0.4, 0.3,0.6,0.4,0.5,2.4,12.6,3.1,0.6];
const R_P26 = [0,0,0,0,0.2,0.7,0.3,0, 0.4,2.2,1.1,0.6,1.8,0.9,1.4,0.5, 0.2,0.1,0,0,0,0,0,0.3, 0.2,0.6,1.4,8.8,2.1,0.7,1.2,3.5, 7.4,2.2,0.6,0.3,0.5,0.4,0.2,0.6, 0.3,0.5,0.2,0.4,0.6,0.3,0.5,0.2, 0.4,0.6,0.3,0.5,0.2,0.4,0.3,0.6, 0.2,0.5,0.3,0.4,0.6,0.2,0.5,0.3];
const R_P27 = [0,0,0,0,0.3,0.1,0,0, 0.3,1.0,2.4,1.6,0.8,1.9,0.6,1.2, 0.5,0.2,0,0,0,0,0.3,0.8, 1.5,2.6,4.7,1.8,0.6,0.4,0.9,0.5, 0.3,0.6,0.4,0.2,0.5,0.3,0.6,0.4, 0.2,0.4,0.6,0.3,0.5,0.2,0.4,0.3, 0.5,0.3,0.2,0.6,0.4,0.3,0.5,0.2, 0.4,0.6,0.3,0.5,0.2,0.4,0.6,0.3];
const R_P28 = [0,0,0,0,0,0.4,0.8,0.2, 0.3,1.5,3.2,1.2,0.7,1.3,2.8,1.6, 0.4,0.2,0,0,0,0,0,0, 0,0.2,0.5,1.6,0.8,0.5,0.3,0.6, 0.5,0.3,0.8,0.4,0.2,0.6,0.3,0.5, 0.4,0.2,0.5,0.3,0.6,0.4,0.2,0.5, 0.3,0.5,0.4,0.2,0.6,0.3,0.5,0.4, 0.2,0.4,0.6,0.3,0.5,0.2,0.4,0.6];
const R_P29 = [0,0,0,0,0.4,0.2,0,0, 0.2,0.8,1.6,2.7,1.1,0.5,1.8,0.9, 0.3,0.1,0,0,0,0,0,0, 0,0.1,0.3,0.9,0.5,0.7,1.6,0.8, 0.4,0.6,0.3,0.5,0.2,4.0,1.2,0.4, 0.3,0.5,0.2,0.6,0.4,0.3,0.5,0.2, 0.4,0.2,0.6,0.3,0.5,0.4,0.2,0.6, 0.3,0.5,0.4,0.2,0.6,0.3,0.5,0.4];
const R_P30 = [0,0,0,0,0.2,0.5,0.2,0, 0.4,1.1,0.7,1.9,0.6,2.1,1.0,0.5, 0.2,0,0,0,0,0,0,0, 0,0.2,0.4,1.2,0.6,0.4,0.8,0.5, 0.6,0.3,0.5,0.2,0.4,0.3,0.6,0.4, 0.2,0.5,0.3,0.4,0.6,0.2,0.5,0.3, 0.3,0.6,0.4,0.5,0.2,0.3,0.6,0.4, 0.5,0.3,0.2,0.6,0.4,0.5,0.3,0.2];

const memberTemps = [T_P1,T_P2,T_P3,T_P4,T_P5,T_P6,T_P7,T_P8,T_P9,T_P10,T_P11,T_P12,T_P13,T_P14,T_P15,T_P16,T_P17,T_P18,T_P19,T_P20,T_P21,T_P22,T_P23,T_P24,T_P25,T_P26,T_P27,T_P28,T_P29,T_P30];
const memberPrecs = [R_P1,R_P2,R_P3,R_P4,R_P5,R_P6,R_P7,R_P8,R_P9,R_P10,R_P11,R_P12,R_P13,R_P14,R_P15,R_P16,R_P17,R_P18,R_P19,R_P20,R_P21,R_P22,R_P23,R_P24,R_P25,R_P26,R_P27,R_P28,R_P29,R_P30];

// ---------- styles ----------
const baseColors = ['#1c3cb8','#1c50c4','#1c6cc4','#1c98c8','#1cb0b8','#1ca890','#1ca468','#1ca848','#1cb428','#18c818','#c8c818','#c8b418','#c8a018','#c88c18','#c87818','#c0641c','#b8501c','#b43c1c','#a82c1c','#a01c1c'];
const memberColors = memberNames.map((n,i)=> baseColors[i<20 ? i : i-20]);
const COL_CONTROL = '#1414ff', COL_MEAN = '#ffffff', COL_CLIM = '#ec4040', COL_OPER = '#1ee01e';

function pts(arr){ return arr.map((v,i)=>({x:hours[i], y:v})); }
function ds(arr, color, width, axis){
  return {data:pts(arr), borderColor:color, borderWidth:width, yAxisID:axis, pointRadius:0, tension:0, fill:false};
}
const datasets = [];
// first in list is drawn on top
datasets.push(ds(operTemp, COL_OPER, 3.5, 'y'));
datasets.push(ds(operPrec, COL_OPER, 3.5, 'y2'));
datasets.push(ds(climTemp, COL_CLIM, 3.5, 'y'));
datasets.push(ds(meanTemp, COL_MEAN, 3, 'y'));
datasets.push(ds(meanPrec, COL_MEAN, 3, 'y2'));
datasets.push(ds(controlTemp, COL_CONTROL, 3.5, 'y'));
datasets.push(ds(controlPrec, COL_CONTROL, 3.5, 'y2'));
for (let i=0;i<30;i++){
  datasets.push(ds(memberTemps[i], memberColors[i], 1, 'y'));
  datasets.push(ds(memberPrecs[i], memberColors[i], 1, 'y2'));
}

const frame = {
  id:'frame',
  afterDraw(chart){
    const {ctx, chartArea:a} = chart;
    const y2 = chart.scales.y2;
    ctx.save();
    ctx.strokeStyle = '#ffffff'; ctx.lineWidth = 1;
    ctx.strokeRect(Math.round(a.left)+0.5, Math.round(a.top)+0.5, Math.round(a.right-a.left)-1, Math.round(a.bottom-a.top)-1);
    ctx.beginPath();
    for (let v=0; v<=40; v++){
      const y = Math.round(y2.getPixelForValue(v))+0.5;
      ctx.moveTo(a.right-4, y); ctx.lineTo(a.right, y);
    }
    ctx.stroke();
    ctx.restore();
  }
};

Chart.defaults.font.family = 'DejaVu Sans';
Chart.defaults.color = '#ffffff';

new Chart(document.getElementById('c'), {
  type:'line',
  data:{datasets},
  options:{
    responsive:false, animation:false, devicePixelRatio:1,
    layout:{padding:{left:123, right:2, top:30, bottom:20}},
    plugins:{legend:{display:false}, tooltip:{enabled:false}, title:{display:false}},
    scales:{
      x:{type:'linear', min:0, max:384,
        afterFit(s){ s.height = 40; },
        grid:{color:'#4a4a4a', lineWidth:1, drawTicks:false},
        border:{display:false, dash:[5,4]},
        ticks:{stepSize:24, autoSkip:false, maxRotation:0, padding:7, font:{size:11}, color:'#fff',
          callback:(v)=> (v%48===0 ? xTickLabels[v/48] : '')}
      },
      y:{type:'linear', position:'left', min:-30, max:15,
        afterFit(s){ s.width = 40; },
        grid:{color:'#4a4a4a', lineWidth:1, drawTicks:false},
        border:{display:false, dash:[5,4]},
        ticks:{stepSize:5, padding:7, font:{size:11}, color:'#fff'}
      },
      y2:{type:'linear', position:'right', min:0, max:40,
        afterFit(s){ s.width = 38; },
        grid:{drawOnChartArea:false, drawTicks:false},
        border:{display:false},
        ticks:{stepSize:10, padding:5, font:{size:11}, color:'#fff'}
      }
    }
  },
  plugins:[frame]
});

// ---------- legend (HTML) ----------
const lg = document.getElementById('legend');
function addItem(x, y, color, text, thick){
  const l = document.createElement('div'); l.className='ll';
  l.style.left = x+'px'; l.style.top = (y - (thick?1.5:1))+'px'; l.style.width='9px'; l.style.height=(thick?3:2)+'px'; l.style.background=color;
  lg.appendChild(l);
  const t = document.createElement('div'); t.className='lg';
  t.style.left = (x+9)+'px'; t.style.top = (y-6.5)+'px'; t.textContent = text;
  lg.appendChild(t);
}
for (let i=0;i<30;i++){
  const row = Math.floor(i/2), col = i%2;
  addItem(col ? 54 : -1, 39 + row*15, memberColors[i], memberNames[i], false);
}
addItem(-1, 265, COL_CONTROL, 'Control', true);
addItem(54, 265, COL_MEAN, 'Ens. mean', true);
addItem(54, 293, COL_CLIM, '1991-2020\nmean', true);
addItem(-1, 305, COL_OPER, 'Oper', true);
</script>
</body></html>
